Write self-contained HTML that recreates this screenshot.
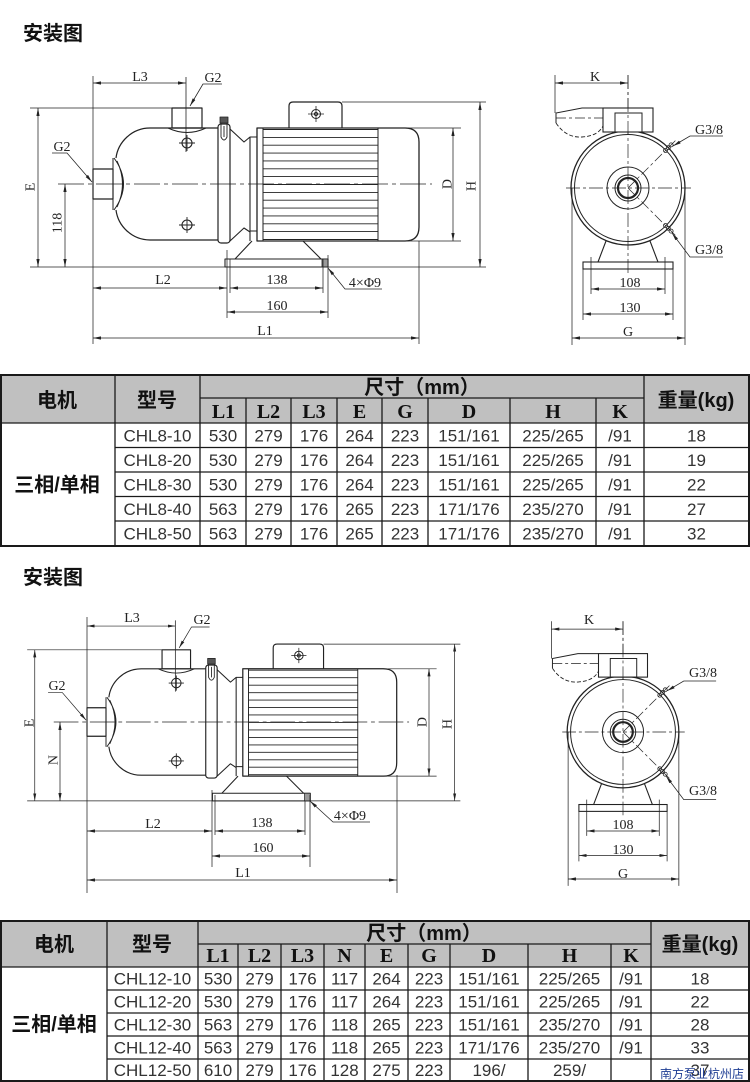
<!DOCTYPE html>
<html><head><meta charset="utf-8">
<style>
html,body{margin:0;padding:0;background:#fff;}
svg{display:block;}
.lb{font-family:"Liberation Serif",serif;font-size:14px;fill:#222;}
.cj{font-family:"Liberation Sans","Noto Sans CJK SC",sans-serif;font-weight:bold;fill:#111;font-size:20px;}
.td{font-family:"Liberation Sans",sans-serif;fill:#333;font-size:17px;}
.th{font-family:"Liberation Serif",serif;font-weight:bold;fill:#111;font-size:20px;}
</style></head><body>
<svg width="750" height="1082" viewBox="0 0 750 1082" xmlns="http://www.w3.org/2000/svg">
<defs>
<marker id="ar" viewBox="0 0 10 10" refX="10" refY="5" markerUnits="userSpaceOnUse" markerWidth="8" markerHeight="8" orient="auto-start-reverse"><path d="M0,3 L10,5 L0,7 Z" fill="#222" stroke="none"/></marker>

<g id="pL" fill="none" stroke="#222" stroke-linejoin="round">
<line x1="58" y1="184" x2="432" y2="184" stroke-width="0.7" stroke-dasharray="26,4,4,4"/>
<line x1="186" y1="77" x2="186" y2="152" stroke-width="0.8"/>
<rect x="93" y="169" width="20" height="30" stroke-width="1.2"/>
<path d="M218,128 H150 C132,128 118,142 116,158 M116,210 C118,226 132,240 150,240 H218" stroke-width="1.2"/>
<path d="M113,158 V210 M114,158 Q133,184 114,210 M117,161 Q128,184 117,207" stroke-width="1"/>
<rect x="172" y="108" width="30" height="20" stroke-width="1.2"/>
<path d="M168,128 Q187,137 206,128" stroke-width="1"/>
<circle cx="187" cy="143" r="5" stroke-width="1.1"/>
<path d="M179,143 H195 M187,135 V151" stroke-width="0.9"/>
<circle cx="187" cy="225" r="5" stroke-width="1.1"/>
<path d="M179,225 H195 M187,217 V233" stroke-width="0.9"/>
<rect x="218" y="124" width="12" height="119" rx="3" stroke-width="1.2"/>
<rect x="220" y="117" width="8" height="6" fill="#555" stroke-width="0.8"/>
<path d="M221,123 V137 Q224,143 227,137 V123 M224,126 V137" stroke-width="0.9"/>
<path d="M230,129 L244,142 L250,137 H257 M250,137 V241 M230,241 L244,228 L250,232 M250,231 H257" stroke-width="1.1"/>
<path d="M257,128 H405 Q419,128 419,142 V227 Q419,241 405,241 H257 Z" stroke-width="1.3"/>
<path d="M263,128 V241 M378,128 V241" stroke-width="1"/>
<path d="M263,129.5H378 M263,137.4H378 M263,145.2H378 M263,153.1H378 M263,160.9H378 M263,168.8H378 M263,176.6H378 M263,184.5H378 M263,192.4H378 M263,200.2H378 M263,208.1H378 M263,215.9H378 M263,223.8H378 M263,231.6H378 M263,239.5H378" stroke-width="0.9"/>
<path d="M289,128 V106 Q289,102 293,102 H338 Q342,102 342,106 V128" stroke-width="1.2"/>
<circle cx="316" cy="114" r="4.5" stroke-width="1"/><circle cx="316" cy="114" r="1.6" stroke-width="0.9"/>
<path d="M308,114 H324 M316,106 V122" stroke-width="0.8"/>
<path d="M252,241 L235,259 M303,241 L321,259" stroke-width="1.1"/>
<rect x="225" y="259" width="103" height="8" stroke-width="1.1"/>
<rect x="322" y="259" width="6" height="8" fill="#999" stroke-width="0.8"/>
<g stroke-width="0.75">
<line x1="93" y1="83" x2="186" y2="83" marker-start="url(#ar)" marker-end="url(#ar)"/>
<line x1="30" y1="108" x2="172" y2="108"/>
<line x1="38" y1="108" x2="38" y2="267" marker-start="url(#ar)" marker-end="url(#ar)"/>
<line x1="30" y1="267" x2="486" y2="267"/>
<line x1="342" y1="102" x2="486" y2="102"/>
<line x1="480" y1="102" x2="480" y2="267" marker-start="url(#ar)" marker-end="url(#ar)"/>
<line x1="405" y1="128" x2="461" y2="128"/>
<line x1="405" y1="241" x2="461" y2="241"/>
<line x1="453" y1="128" x2="453" y2="241" marker-start="url(#ar)" marker-end="url(#ar)"/>
<polyline points="222,84 203,84 190,106" marker-end="url(#ar)"/>
<polyline points="52,153 67,153 92,182" marker-end="url(#ar)"/>
</g>
</g>

<g id="pR" fill="none" stroke="#222">
<line x1="628" y1="75" x2="628" y2="275" stroke-width="0.7" stroke-dasharray="14,3,3,3"/>
<line x1="566" y1="188" x2="691" y2="188" stroke-width="0.7" stroke-dasharray="14,3,3,3"/>
<path d="M628,188 L677,139 M628,188 L677,237" stroke-width="0.7" stroke-dasharray="10,3,3,3"/>
<circle cx="628" cy="188" r="57" stroke-width="1.3"/>
<circle cx="628" cy="188" r="53.5" stroke-width="1"/>
<circle cx="628" cy="188" r="21" stroke-width="1"/>
<circle cx="628" cy="188" r="13" stroke-width="1"/>
<circle cx="628" cy="188" r="10" stroke-width="2.2"/>
<circle cx="665.5" cy="150.5" r="2" stroke-width="0.8"/><circle cx="668.3" cy="147.7" r="2" stroke-width="0.8"/><circle cx="671.1" cy="144.9" r="2" stroke-width="0.8"/>
<circle cx="665.5" cy="225.5" r="2" stroke-width="0.8"/><circle cx="668.3" cy="228.3" r="2" stroke-width="0.8"/><circle cx="671.1" cy="231.1" r="2" stroke-width="0.8"/>
<rect x="603" y="108" width="50" height="24" fill="#fff" stroke-width="1.1"/>
<rect x="615" y="113" width="27" height="19" stroke-width="1"/>
<line x1="628" y1="75" x2="628" y2="135" stroke-width="0.7" stroke-dasharray="14,3,3,3"/>
<path d="M603,108 H582 L556,113 V123" stroke-width="1"/>
<line x1="556" y1="118" x2="603" y2="118" stroke-width="0.7" stroke-dasharray="10,3,3,3"/>
<path d="M556,123 Q566,138 582,137 Q598,136 603,126" stroke-dasharray="4,2" stroke-width="0.9"/>
<path d="M606,241 L598,262 M650,241 L658,262" stroke-width="1.1"/>
<rect x="583" y="262" width="90" height="7" stroke-width="1.1"/>
<g stroke-width="0.75">
<line x1="555" y1="75" x2="555" y2="113"/>
<line x1="555" y1="83" x2="628" y2="83" marker-start="url(#ar)" marker-end="url(#ar)"/>
<line x1="591" y1="257" x2="591" y2="294"/>
<line x1="665" y1="257" x2="665" y2="294"/>
<line x1="583" y1="269" x2="583" y2="320"/>
<line x1="673" y1="269" x2="673" y2="320"/>
<line x1="572" y1="188" x2="572" y2="345"/>
<line x1="685" y1="188" x2="685" y2="345"/>
<line x1="591" y1="289" x2="665" y2="289" marker-start="url(#ar)" marker-end="url(#ar)"/>
<line x1="583" y1="314" x2="673" y2="314" marker-start="url(#ar)" marker-end="url(#ar)"/>
<line x1="572" y1="338" x2="685" y2="338" marker-start="url(#ar)" marker-end="url(#ar)"/>
<polyline points="723,136 690,136 673,146" marker-end="url(#ar)"/>
<polyline points="723,257 690,257 672,233" marker-end="url(#ar)"/>
</g>
</g>
</defs>

<rect width="750" height="1082" fill="#fff"/>

<!-- titles -->
<text class="cj" x="23" y="40" font-size="19">安装图</text>
<text class="cj" x="23" y="584" font-size="19">安装图</text>

<!-- ===== TOP DRAWINGS ===== -->
<use href="#pL"/>
<use href="#pR"/>
<g fill="none" stroke="#222" stroke-width="0.75">
<line x1="93" y1="76" x2="93" y2="344"/>
<line x1="65" y1="184" x2="65" y2="267" marker-start="url(#ar)" marker-end="url(#ar)"/>
<line x1="419" y1="241" x2="419" y2="344"/>
<line x1="227" y1="250" x2="227" y2="318"/>
<line x1="230" y1="259" x2="230" y2="293"/>
<line x1="323" y1="259" x2="323" y2="293"/>
<line x1="328" y1="255" x2="328" y2="318"/>
<line x1="93" y1="288" x2="227" y2="288" marker-start="url(#ar)" marker-end="url(#ar)"/>
<line x1="230" y1="288" x2="323" y2="288" marker-start="url(#ar)" marker-end="url(#ar)"/>
<line x1="227" y1="312" x2="328" y2="312" marker-start="url(#ar)" marker-end="url(#ar)"/>
<line x1="93" y1="338" x2="419" y2="338" marker-start="url(#ar)" marker-end="url(#ar)"/>
<polyline points="382,289 345,289 328,268" marker-end="url(#ar)"/>
</g>
<g class="lb" text-anchor="middle">
<text x="140" y="81">L3</text>
<text x="213" y="82">G2</text>
<text x="62" y="151">G2</text>
<text transform="translate(34.5,187) rotate(-90)">E</text>
<text transform="translate(61.5,223) rotate(-90)">118</text>
<text transform="translate(451.5,184) rotate(-90)">D</text>
<text transform="translate(475.5,186) rotate(-90)">H</text>
<text x="163" y="284">L2</text>
<text x="277" y="284">138</text>
<text x="277" y="310">160</text>
<text x="265" y="335">L1</text>
<text x="365" y="287">4×Φ9</text>
<text x="595" y="81">K</text>
<text x="709" y="134">G3/8</text>
<text x="709" y="254">G3/8</text>
<text x="630" y="287">108</text>
<text x="630" y="312">130</text>
<text x="628" y="336">G</text>
</g>

<!-- ===== TABLE 1 ===== -->
<rect x="1" y="375" width="748" height="48" fill="#c0c0c0"/>
<g stroke="#1a1a1a" fill="none">
<rect x="1" y="375" width="748" height="171" stroke-width="2"/>
<path stroke-width="1.3" d="M115,375V546 M200,375V546 M644,375V546 M246,398V546 M291,398V546 M337,398V546 M382,398V546 M428,398V546 M510,398V546 M596,398V546 M200,398H644 M1,423H749 M115,447.5H749 M115,472H749 M115,496.5H749 M115,521H749"/>
</g>
<g class="cj" text-anchor="middle">
<text x="57" y="407">电机</text>
<text x="157" y="407">型号</text>
<text x="422" y="394">尺寸（mm）</text>
<text x="696" y="407">重量(kg)</text>
<text x="57" y="491.5">三相/单相</text>
</g>
<g class="th" text-anchor="middle">
<text x="223.5" y="418">L1</text><text x="268.5" y="418">L2</text><text x="314" y="418">L3</text><text x="359.5" y="418">E</text><text x="405" y="418">G</text><text x="469" y="418">D</text><text x="553" y="418">H</text><text x="620" y="418">K</text>
</g>
<g class="td" text-anchor="middle">
<text x="157.5" y="441.5">CHL8-10</text><text x="223" y="441.5">530</text><text x="268.5" y="441.5">279</text><text x="314" y="441.5">176</text><text x="359.5" y="441.5">264</text><text x="405" y="441.5">223</text><text x="469" y="441.5">151/161</text><text x="553" y="441.5">225/265</text><text x="620" y="441.5">/91</text><text x="696.5" y="441.5">18</text>
<text x="157.5" y="466">CHL8-20</text><text x="223" y="466">530</text><text x="268.5" y="466">279</text><text x="314" y="466">176</text><text x="359.5" y="466">264</text><text x="405" y="466">223</text><text x="469" y="466">151/161</text><text x="553" y="466">225/265</text><text x="620" y="466">/91</text><text x="696.5" y="466">19</text>
<text x="157.5" y="490.5">CHL8-30</text><text x="223" y="490.5">530</text><text x="268.5" y="490.5">279</text><text x="314" y="490.5">176</text><text x="359.5" y="490.5">264</text><text x="405" y="490.5">223</text><text x="469" y="490.5">151/161</text><text x="553" y="490.5">225/265</text><text x="620" y="490.5">/91</text><text x="696.5" y="490.5">22</text>
<text x="157.5" y="515">CHL8-40</text><text x="223" y="515">563</text><text x="268.5" y="515">279</text><text x="314" y="515">176</text><text x="359.5" y="515">265</text><text x="405" y="515">223</text><text x="469" y="515">171/176</text><text x="553" y="515">235/270</text><text x="620" y="515">/91</text><text x="696.5" y="515">27</text>
<text x="157.5" y="539.5">CHL8-50</text><text x="223" y="539.5">563</text><text x="268.5" y="539.5">279</text><text x="314" y="539.5">176</text><text x="359.5" y="539.5">265</text><text x="405" y="539.5">223</text><text x="469" y="539.5">171/176</text><text x="553" y="539.5">235/270</text><text x="620" y="539.5">/91</text><text x="696.5" y="539.5">32</text>
</g>

<!-- ===== BOTTOM DRAWINGS ===== -->
<use href="#pL" transform="translate(87,722) scale(0.95) translate(-93,-184)"/>
<use href="#pR" transform="translate(623,732) scale(0.98) translate(-628,-188)"/>
<g fill="none" stroke="#222" stroke-width="0.75">
<line x1="87" y1="617" x2="87" y2="893"/>
<line x1="60" y1="722" x2="60" y2="801" marker-start="url(#ar)" marker-end="url(#ar)"/>
<line x1="397" y1="775" x2="397" y2="893"/>
<line x1="212" y1="790" x2="212" y2="867"/>
<line x1="215" y1="795" x2="215" y2="835"/>
<line x1="305" y1="801" x2="305" y2="835"/>
<line x1="310" y1="795" x2="310" y2="867"/>
<line x1="87" y1="831" x2="212" y2="831" marker-start="url(#ar)" marker-end="url(#ar)"/>
<line x1="215" y1="831" x2="305" y2="831" marker-start="url(#ar)" marker-end="url(#ar)"/>
<line x1="212" y1="856" x2="310" y2="856" marker-start="url(#ar)" marker-end="url(#ar)"/>
<line x1="87" y1="880" x2="397" y2="880" marker-start="url(#ar)" marker-end="url(#ar)"/>
<polyline points="370,822 333,822 310,801" marker-end="url(#ar)"/>
</g>
<g class="lb" text-anchor="middle">
<text x="132" y="622">L3</text>
<text x="202" y="624">G2</text>
<text x="57" y="690">G2</text>
<text transform="translate(33.5,723) rotate(-90)">E</text>
<text transform="translate(57.5,760) rotate(-90)">N</text>
<text transform="translate(426.5,722) rotate(-90)">D</text>
<text transform="translate(451.5,724) rotate(-90)">H</text>
<text x="153" y="828">L2</text>
<text x="262" y="827">138</text>
<text x="263" y="852">160</text>
<text x="243" y="877">L1</text>
<text x="350" y="820">4×Φ9</text>
<text x="589" y="624">K</text>
<text x="703" y="677">G3/8</text>
<text x="703" y="795">G3/8</text>
<text x="623" y="829">108</text>
<text x="623" y="854">130</text>
<text x="623" y="878">G</text>
</g>

<!-- ===== TABLE 2 ===== -->
<rect x="1" y="921" width="748" height="46" fill="#c0c0c0"/>
<g stroke="#1a1a1a" fill="none">
<rect x="1" y="921" width="748" height="160" stroke-width="2"/>
<path stroke-width="1.3" d="M107,921V1081 M198,921V1081 M651,921V1081 M238,944V1081 M281,944V1081 M324,944V1081 M365,944V1081 M408,944V1081 M450,944V1081 M528,944V1081 M611,944V1081 M198,944H651 M1,967H749 M107,990H749 M107,1013H749 M107,1036H749 M107,1059H749"/>
</g>
<g class="cj" text-anchor="middle">
<text x="54" y="951">电机</text>
<text x="152" y="951">型号</text>
<text x="424" y="940">尺寸（mm）</text>
<text x="700" y="951">重量(kg)</text>
<text x="54" y="1031">三相/单相</text>
</g>
<g class="th" text-anchor="middle">
<text x="218" y="962">L1</text><text x="259.5" y="962">L2</text><text x="302.5" y="962">L3</text><text x="344.5" y="962">N</text><text x="386.5" y="962">E</text><text x="429" y="962">G</text><text x="489" y="962">D</text><text x="569.5" y="962">H</text><text x="631" y="962">K</text>
</g>
<g class="td" text-anchor="middle">
<text x="152.5" y="984.5">CHL12-10</text><text x="218" y="984.5">530</text><text x="259.5" y="984.5">279</text><text x="302.5" y="984.5">176</text><text x="344.5" y="984.5">117</text><text x="386.5" y="984.5">264</text><text x="429" y="984.5">223</text><text x="489" y="984.5">151/161</text><text x="569.5" y="984.5">225/265</text><text x="631" y="984.5">/91</text><text x="700" y="984.5">18</text>
<text x="152.5" y="1007.5">CHL12-20</text><text x="218" y="1007.5">530</text><text x="259.5" y="1007.5">279</text><text x="302.5" y="1007.5">176</text><text x="344.5" y="1007.5">117</text><text x="386.5" y="1007.5">264</text><text x="429" y="1007.5">223</text><text x="489" y="1007.5">151/161</text><text x="569.5" y="1007.5">225/265</text><text x="631" y="1007.5">/91</text><text x="700" y="1007.5">22</text>
<text x="152.5" y="1030.5">CHL12-30</text><text x="218" y="1030.5">563</text><text x="259.5" y="1030.5">279</text><text x="302.5" y="1030.5">176</text><text x="344.5" y="1030.5">118</text><text x="386.5" y="1030.5">265</text><text x="429" y="1030.5">223</text><text x="489" y="1030.5">151/161</text><text x="569.5" y="1030.5">235/270</text><text x="631" y="1030.5">/91</text><text x="700" y="1030.5">28</text>
<text x="152.5" y="1053.5">CHL12-40</text><text x="218" y="1053.5">563</text><text x="259.5" y="1053.5">279</text><text x="302.5" y="1053.5">176</text><text x="344.5" y="1053.5">118</text><text x="386.5" y="1053.5">265</text><text x="429" y="1053.5">223</text><text x="489" y="1053.5">171/176</text><text x="569.5" y="1053.5">235/270</text><text x="631" y="1053.5">/91</text><text x="700" y="1053.5">33</text>
<text x="152.5" y="1076">CHL12-50</text><text x="218" y="1076">610</text><text x="259.5" y="1076">279</text><text x="302.5" y="1076">176</text><text x="344.5" y="1076">128</text><text x="386.5" y="1076">275</text><text x="429" y="1076">223</text><text x="489" y="1076">196/</text><text x="569.5" y="1076">259/</text><text x="700" y="1076">37</text>
</g>
<text x="660" y="1078" font-family="'Liberation Sans','Noto Sans CJK SC',sans-serif" font-size="12" fill="#1d3c93">南方泵业杭州店</text>
</svg>
</body></html>
